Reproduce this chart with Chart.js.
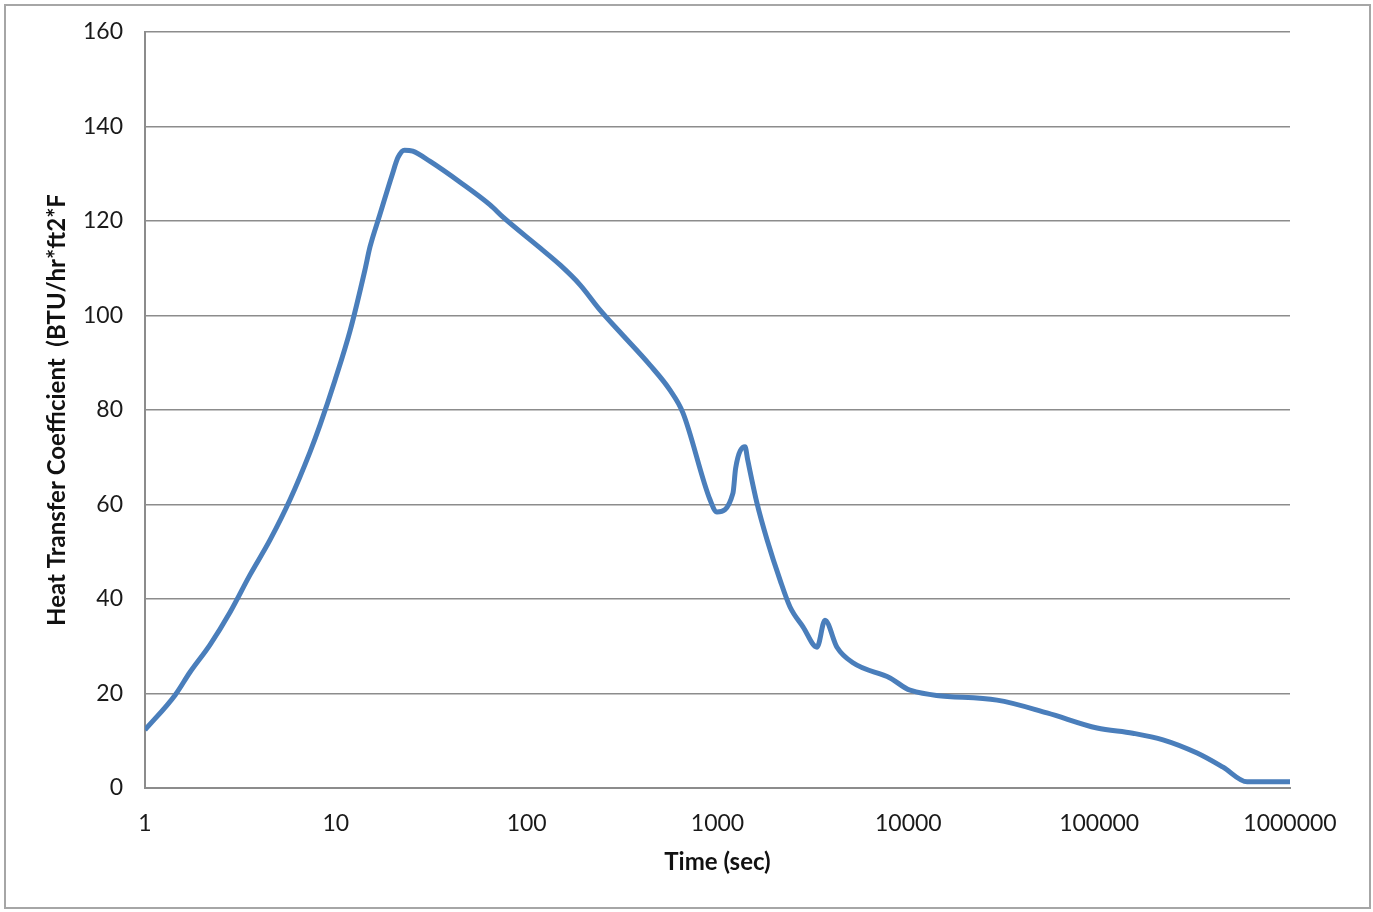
<!DOCTYPE html>
<html lang="en">
<head>
<meta charset="UTF-8">
<title>Heat Transfer Coefficient</title>
<script src="https://cdn.jsdelivr.net/npm/chart.js@4.4.1/dist/chart.umd.min.js"></script>
<style>
  html, body { margin: 0; padding: 0; background: #fff; }
  #wrap { width: 1373px; height: 912px; position: relative; }
</style>
</head>
<body>
<div id="wrap"><canvas id="htc" width="1373" height="912"></canvas></div>
<script>
// time (sec) and heat transfer coefficient readings
var times = [1, 1.44, 1.72, 2.19, 2.79, 3.55, 4.52, 5.75, 7.32, 8.26, 9.9, 11.9, 14.2, 15.1, 17.0, 19.7, 21.2, 22.9, 25.3,
  31.2, 44.8, 64.3, 75.2, 117.5, 149.6, 190.4, 242, 308, 443, 564, 659, 914, 994, 1205, 1245, 1394, 1440, 1610, 1820,
  2128, 2400, 2806, 3324, 3658, 4227, 5128, 8020, 10210, 29160, 53300, 97500, 150000, 216000, 326000, 446000, 596000, 1000000];
var htc = [12.3, 19.7, 24.5, 30.3, 37.2, 45.1, 52.5, 61, 71.1, 76.8, 86.3, 96.9, 109.6, 114.5, 121.3, 129.7, 133.5, 135, 134.8,
  132.6, 128.2, 123.4, 120.8, 114.3, 110.7, 106.5, 101.2, 96.5, 89.5, 84.2, 79.4, 61, 58.4, 62.4, 67.7, 72.2, 69.4, 60.3, 52.5,
  44, 38.3, 34.1, 29.8, 35.5, 29.8, 26.5, 23.3, 20.7, 18.6, 15.9, 12.7, 11.6, 10.2, 7.4, 4.4, 1.3, 1.3];
var xTicks = [1, 10, 100, 1000, 10000, 100000, 1000000];

var points = [];
for (var i = 0; i < times.length; i++) {
  points.push({ x: times[i], y: htc[i] });
}

// grey frame round the whole chart
var frame = {
  id: 'frame',
  beforeDraw: function(chart) {
    var c = chart.ctx;
    c.save();
    c.fillStyle = '#fff';
    c.fillRect(0, 0, chart.width, chart.height);
    c.strokeStyle = '#a6a6a6';
    c.lineWidth = 2;
    c.strokeRect(5, 5, 1365, 903);
    c.restore();
  }
};

var font = "Lato, 'Open Sans', sans-serif";
var ctx = document.getElementById('htc').getContext('2d');
var chart = new Chart(ctx, {
  type: 'line',
  data: {
    datasets: [{
      data: points,
      borderColor: '#4a7ebb',
      borderWidth: 5,
      pointRadius: 0,
      cubicInterpolationMode: 'monotone',
      fill: false
    }]
  },
  options: {
    responsive: false,
    animation: false,
    layout: { padding: { left: 0, top: 32, right: 83, bottom: 0 } },
    plugins: { legend: { display: false }, tooltip: { enabled: false } },
    scales: {
      x: {
        type: 'logarithmic',
        min: 1,
        max: 1000000,
        afterBuildTicks: function(scale) {
          scale.ticks = xTicks.map(function(v) { return { value: v }; });
        },
        afterFit: function(scale) { scale.height = 124; },
        grid: { display: false, drawTicks: false },
        border: { display: true, color: '#8c8c8c', width: 2 },
        ticks: {
          color: '#1a1a1a',
          font: { family: font, size: 23 },
          padding: 22,
          maxRotation: 0,
          autoSkip: false,
          callback: function(v) { return String(v); }
        },
        title: {
          display: true,
          text: 'Time (sec)',
          color: '#111',
          font: { family: font, size: 24, weight: 'bold' },
          padding: { top: 0, bottom: 35 }
        }
      },
      y: {
        min: 0,
        max: 160,
        afterFit: function(scale) {
          scale.width = 145;
          scale.paddingTop = 0;
          scale.paddingBottom = 0;
        },
        ticks: {
          stepSize: 20,
          color: '#1a1a1a',
          font: { family: font, size: 23 },
          padding: 22
        },
        grid: { color: '#8c8c8c', lineWidth: 1.5, drawTicks: false },
        border: { display: true, color: '#8c8c8c', width: 2 },
        title: {
          display: true,
          text: 'Heat Transfer Coefficient  (BTU/hr*ft2*F',
          color: '#111',
          font: { family: font, size: 24, weight: 'bold' },
          padding: { top: 43, bottom: 0 }
        }
      }
    }
  },
  plugins: [frame]
});
</script>
</body>
</html>
